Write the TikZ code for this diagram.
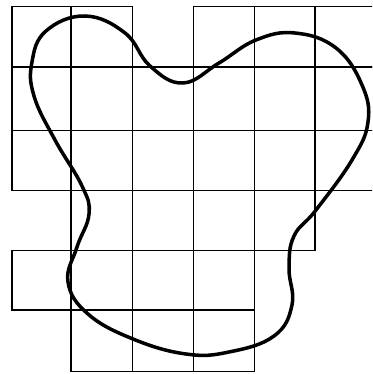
\documentclass[tikz,border=0pt]{standalone}
\usepackage{tikz}
\usetikzlibrary{arrows.meta,positioning}

\begin{document}
\begin{tikzpicture}[x=.02cm,y=-.02cm,
  cell/.style={draw=black,line width=1pt},
  blob/.style={draw=black,line width=2pt,line join=round}]
\useasboundingbox (0,0) rectangle (372,374);
\clip (0,0) rectangle (372,374);
% first row
\draw[cell] (12,6.5) rectangle (71,66.7);
\draw[cell] (71,6.5) rectangle (132.5,66.7);
\draw[cell] (193.5,6.5) rectangle (254.5,66.7);
\draw[cell] (254.5,6.5) rectangle (315,66.7);
\draw[cell] (315,6.5) rectangle (376,66.7);
% second row
\draw[cell] (12,66.7) rectangle (71,130.5);
\draw[cell] (71,66.7) rectangle (132.5,130.5);
\draw[cell] (132.5,66.7) rectangle (193.5,130.5);
\draw[cell] (193.5,66.7) rectangle (254.5,130.5);
\draw[cell] (254.5,66.7) rectangle (315,130.5);
\draw[cell] (315,66.7) rectangle (376,130.5);
% third row
\draw[cell] (12,130.5) rectangle (71,190.5);
\draw[cell] (71,130.5) rectangle (132.5,190.5);
\draw[cell] (132.5,130.5) rectangle (193.5,190.5);
\draw[cell] (193.5,130.5) rectangle (254.5,190.5);
\draw[cell] (254.5,130.5) rectangle (315,190.5);
\draw[cell] (315,130.5) rectangle (376,190.5);
% fourth row
\draw[cell] (71,190.5) rectangle (132.5,250.5);
\draw[cell] (132.5,190.5) rectangle (193.5,250.5);
\draw[cell] (193.5,190.5) rectangle (254.5,250.5);
\draw[cell] (254.5,190.5) rectangle (315,250.5);
% fifth row
\draw[cell] (12,250.5) rectangle (71,310);
\draw[cell] (71,250.5) rectangle (132.5,310);
\draw[cell] (132.5,250.5) rectangle (193.5,310);
\draw[cell] (193.5,250.5) rectangle (254.5,310);
% last row
\draw[cell] (71,310) rectangle (132.5,371.5);
\draw[cell] (132.5,310) rectangle (193.5,371.5);
\draw[cell] (193.5,310) rectangle (254.5,371.5);
% the closed curve
\draw[blob] plot[smooth cycle,tension=.7] coordinates {
  (46,31) (85,16) (125,33) (150,66) (183,83) (219,63) (256,40) (295,33)
  (336,48) (362,85) (368,122) (352,160) (316,210) (294,236) (289,268)
  (292,305) (274,336) (229,352) (186,354) (133,339) (88,314) (68,282)
  (77,247) (89,214) (82,186) (55,140) (34,96) (32,62)};
\end{tikzpicture}
\end{document}
